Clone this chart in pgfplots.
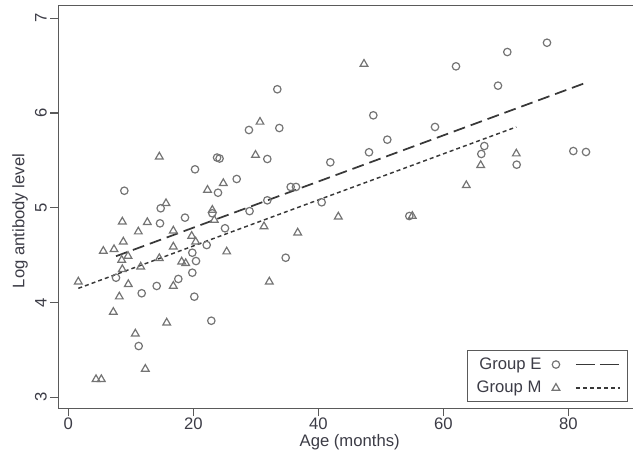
\documentclass[border=0pt]{standalone}
\usepackage{fontspec}
\setmainfont{Liberation Sans}
\usepackage{pgfplots}
\pgfplotsset{compat=1.18}
\definecolor{framec}{HTML}{5A5A5A}
\definecolor{mk}{HTML}{747474}
\definecolor{fitc}{HTML}{383838}
\definecolor{txt}{HTML}{3C3C46}

\begin{document}
\fontsize{12.5}{15}\selectfont
\begin{tikzpicture}
\begin{axis}[
  scale only axis, width=437pt, height=301.95pt,
  xmin=-1.6, xmax=91.63, ymin=2.884, ymax=7.133,
  xtick={0,20,40,60,80}, ytick={3,4,5,6,7},
  tick align=outside, tick pos=left, major tick length=6pt,
  axis line style={framec, line width=1pt},
  tick style={framec, line width=0.9pt},
  /pgf/number format/assume math mode=true,
  every tick label/.append style={txt, font=\fontsize{12.5}{15}\selectfont},
  xticklabel style={inner sep=1pt},
  yticklabel style={rotate=90, anchor=south, inner sep=2.5pt},
  xlabel={Age (months)}, ylabel={Log antibody level},
  every axis x label/.style={at={(axis description cs:0.5,-0.0835)}, anchor=center, txt},
  every axis y label/.style={at={(axis description cs:-0.0657,0.465)}, rotate=90, anchor=center, txt},
  legend plot pos=right,
  legend cell align=right,
  legend style={at={(axis description cs:0.701,0.0149)}, anchor=south west,
    draw=framec, line width=0.8pt, fill=white, text=txt,
    font=\fontsize{12.5}{15}\selectfont,
    inner xsep=5pt, inner ysep=3pt, row sep=3pt, column sep=6pt},
]
% group E
\addplot[only marks, mark=o, mk, mark size=2.8pt, line width=0.9pt, forget plot] table {
8.96 5.18
7.63 4.262
11.26 3.541
11.74 4.098
14.14 4.175
14.67 4.836
14.78 4.995
17.6 4.249
18.67 4.896
19.84 4.526
19.84 4.315
20.16 4.062
20.27 5.406
20.43 4.438
22.14 4.607
22.88 3.808
23.04 4.942
23.8 5.53
24.2 5.52
23.95 5.159
25.07 4.784
26.94 5.304
28.9 5.821
29.0 4.965
31.84 5.515
31.84 5.079
33.44 6.251
33.76 5.842
34.78 4.473
35.58 5.22
36.43 5.22
40.54 5.058
41.92 5.48
48.11 5.586
48.8 5.976
51.04 5.719
54.56 4.913
58.67 5.853
62.03 6.493
66.08 5.568
66.56 5.652
68.75 6.289
70.24 6.644
71.74 5.455
76.59 6.742
80.8 5.599
82.83 5.589
};
% group M
\addplot[only marks, mark=triangle, mk, mark size=3.3pt, line width=0.9pt, forget plot] table {
1.6 4.22
4.43 3.19
5.28 3.19
5.6 4.544
7.2 3.9
7.31 4.562
8.16 4.062
8.54 4.449
8.64 4.853
8.64 4.351
8.8 4.642
9.55 4.491
9.6 4.193
10.72 3.671
11.2 4.748
11.58 4.378
12.32 3.299
12.64 4.847
14.56 5.539
14.56 4.467
15.63 5.047
15.74 3.787
16.8 4.758
16.8 4.589
16.8 4.175
18.14 4.431
18.78 4.414
19.74 4.702
20.38 4.642
22.27 5.188
23.04 4.977
23.36 4.871
24.8 5.259
25.34 4.537
29.95 5.557
30.67 5.906
31.31 4.803
32.16 4.22
36.7 4.737
43.2 4.906
47.31 6.518
55.04 4.913
63.68 5.237
65.98 5.449
71.68 5.571
};
% fitted lines
\addplot[fitc, line width=1.3pt, dash pattern=on 9pt off 4.5pt, forget plot] coordinates {(7.63,4.489) (82.83,6.320)};
\addplot[fitc, line width=1.1pt, dash pattern=on 3pt off 2.3pt, forget plot] coordinates {(1.6,4.150) (71.68,5.853)};

\addlegendimage{legend image code/.code={
  \draw[mk, line width=0.9pt, mark=o, mark size=2.8pt] plot coordinates {(3pt,0pt)};
  \draw[fitc, line width=1.3pt, dash pattern=on 14pt off 4pt] (18pt,0pt) -- (51pt,0pt);}}
\addlegendentry{Group E}
\addlegendimage{legend image code/.code={
  \draw[mk, line width=0.9pt, mark=triangle, mark size=3.3pt] plot coordinates {(3pt,0pt)};
  \draw[fitc, line width=1.1pt, dash pattern=on 3pt off 2.3pt] (18pt,0pt) -- (51pt,0pt);}}
\addlegendentry{Group M}

\coordinate (bbl) at (rel axis cs:-0.1001,-0.116);
\coordinate (btr) at (rel axis cs:0.9863,1.01416);
\end{axis}
\pgfresetboundingbox
\path[use as bounding box] (bbl) rectangle (btr);
\end{tikzpicture}
\end{document}
